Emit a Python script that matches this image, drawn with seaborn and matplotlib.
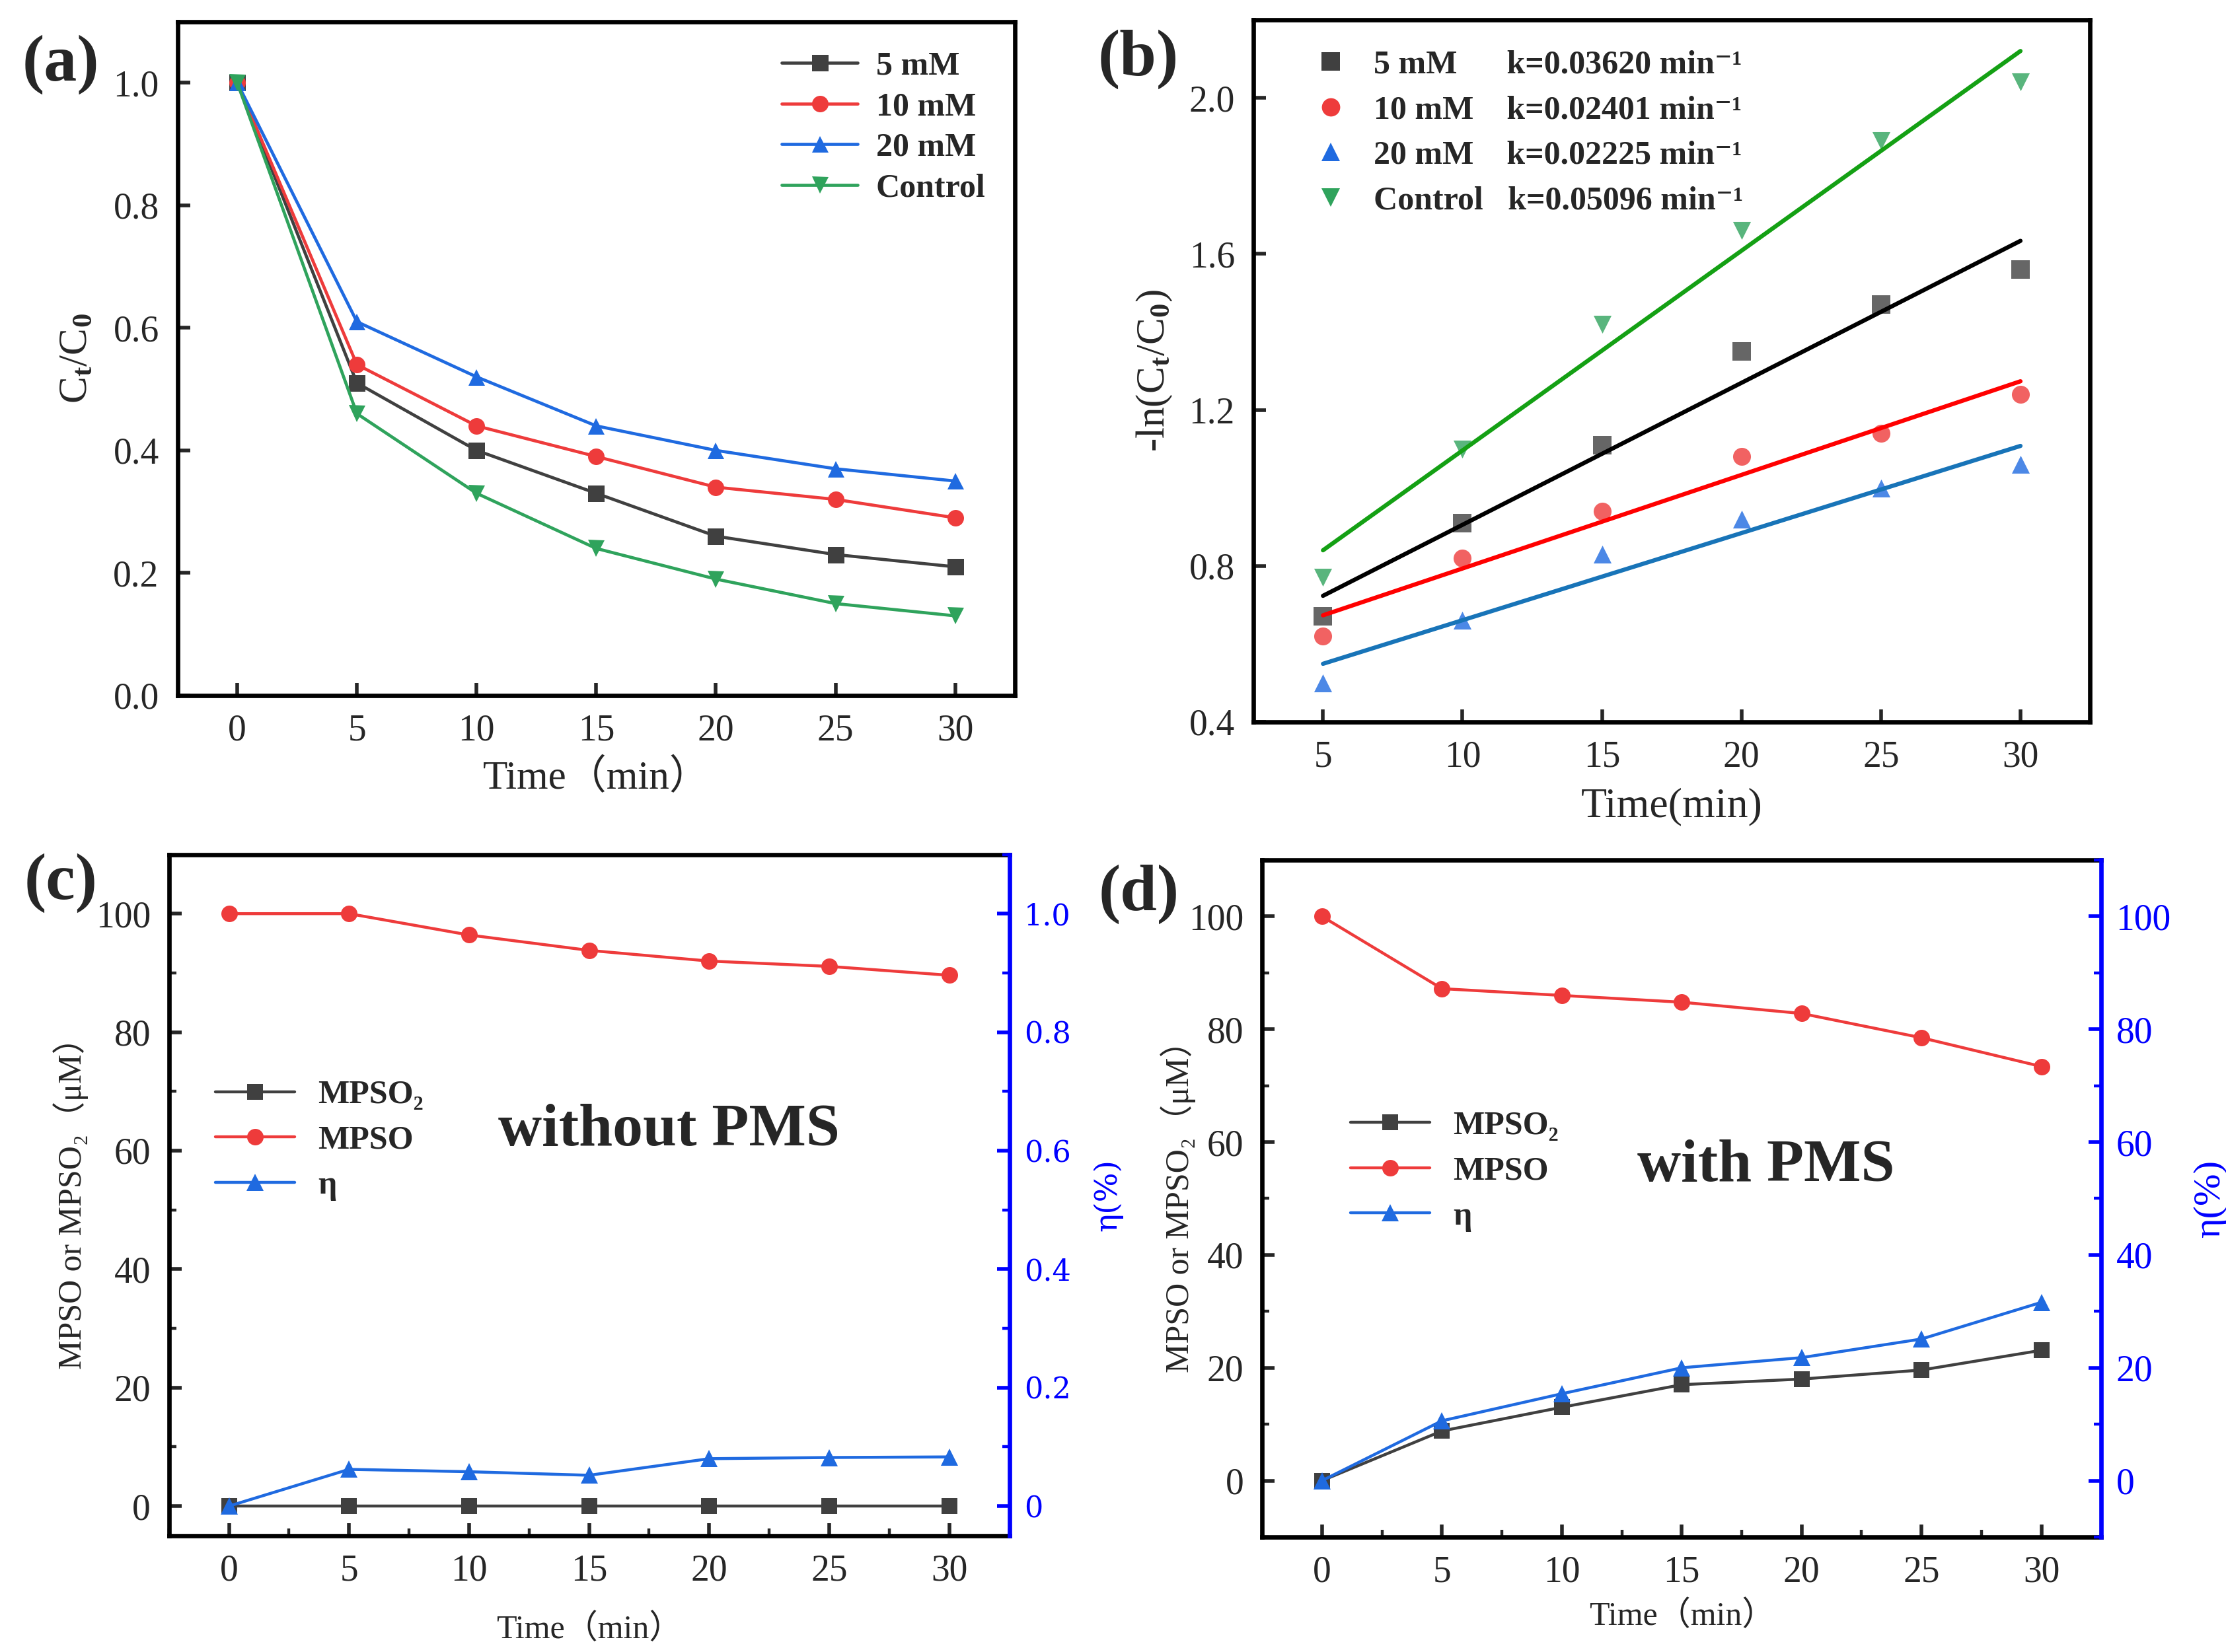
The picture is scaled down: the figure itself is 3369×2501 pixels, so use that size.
"""
Four-panel kinetics figure: (a) Ct/C0 decay, (b) pseudo-first-order fits,
(c)/(d) MPSO / MPSO2 evolution without and with PMS.
"""

import numpy as np
import pandas as pd
import matplotlib
matplotlib.use("Agg")
import matplotlib.pyplot as plt
from matplotlib.lines import Line2D
from matplotlib.ticker import MultipleLocator
import seaborn as sns

# ---------------- data ----------------
time_a = [0, 5, 10, 15, 20, 25, 30]
ratio_5mM = [1.0, 0.51, 0.40, 0.33, 0.26, 0.23, 0.21]
ratio_10mM = [1.0, 0.54, 0.44, 0.39, 0.34, 0.32, 0.29]
ratio_20mM = [1.0, 0.61, 0.52, 0.44, 0.40, 0.37, 0.35]
ratio_ctrl = [1.0, 0.46, 0.33, 0.24, 0.19, 0.15, 0.13]
series_names = ["5 mM", "10 mM", "20 mM", "Control"]

time_b = [5, 10, 15, 20, 25, 30]
lnr_5mM = [0.67, 0.91, 1.11, 1.35, 1.47, 1.56]
lnr_10mM = [0.62, 0.82, 0.94, 1.08, 1.14, 1.24]
lnr_20mM = [0.50, 0.66, 0.83, 0.92, 1.00, 1.06]
lnr_ctrl = [0.77, 1.10, 1.42, 1.66, 1.89, 2.04]
k_values = ["0.03620", "0.02401", "0.02225", "0.05096"]

time_cd = [0, 5, 10, 15, 20, 25, 30]
mpso2_c = [0, 0, 0, 0, 0, 0, 0]
mpso_c = [100, 100, 96.4, 93.8, 92.0, 91.1, 89.6]
eta_c = [0, 0.062, 0.058, 0.052, 0.080, 0.082, 0.083]
mpso2_d = [0, 8.8, 13.0, 17.0, 18.0, 19.6, 23.1]
mpso_d = [100, 87.2, 86.0, 84.8, 82.8, 78.5, 73.4]
eta_d = [0, 10.6, 15.4, 20.0, 21.8, 25.1, 31.6]

eta_c_ticks = [0, 0.2, 0.4, 0.6, 0.8, 1.0]
eta_c_ticklabels = ["0", "0.2", "0.4", "0.6", "0.8", "1.0"]

# ---------------- style ----------------
sns.set_style("ticks")
plt.rcParams["font.family"] = ["Liberation Serif", "DejaVu Serif", "Noto Sans CJK SC"]
plt.rcParams["mathtext.fontset"] = "custom"
plt.rcParams["mathtext.rm"] = "Liberation Serif:bold"
plt.rcParams["mathtext.it"] = "Liberation Serif:bold"
plt.rcParams["mathtext.bf"] = "Liberation Serif:bold"
plt.rcParams["mathtext.default"] = "rm"
plt.rcParams["axes.linewidth"] = 2.4

LINE_COL = {"5 mM": "#404040", "10 mM": "#EE3B3B", "20 mM": "#1F6AE0", "Control": "#2FA35C"}
FIT_COL = {"5 mM": "#000000", "10 mM": "#FF0000", "20 mM": "#1874B8", "Control": "#14A014"}
MARKERS = {"5 mM": "s", "10 mM": "o", "20 mM": "^", "Control": "v"}
BLUE = "#0000FF"


def style_axes(ax, size=20, minor=False, pad=8):
    ax.tick_params(axis="both", which="major", direction="in", length=7, width=2,
                   labelsize=size, top=False, right=False, pad=pad)
    if minor:
        ax.tick_params(axis="both", which="minor", direction="in", length=4, width=1.6,
                       top=False, right=False)
    for sp in ax.spines.values():
        sp.set_linewidth(2.4)
        sp.set_color("black")


fig = plt.figure(figsize=(16.845, 12.505), dpi=200)

# ---------------- (a) ----------------
ax_a = fig.add_axes([0.0797, 0.579, 0.3763, 0.408])
df_a = pd.DataFrame({"time": time_a, "5 mM": ratio_5mM, "10 mM": ratio_10mM,
                     "20 mM": ratio_20mM, "Control": ratio_ctrl})
for name in series_names:
    sns.lineplot(data=df_a, x="time", y=name, ax=ax_a, color=LINE_COL[name],
                 marker=MARKERS[name], markersize=9, markeredgewidth=0,
                 linewidth=1.7, label=name)
ax_a.set_xlim(-2.5, 32.5)
ax_a.set_ylim(0, 1.1)
ax_a.set_xticks(time_a)
ax_a.set_yticks([0, 0.2, 0.4, 0.6, 0.8, 1.0])
ax_a.yaxis.set_major_formatter(plt.FormatStrFormatter("%.1f"))
style_axes(ax_a, pad=10)
ax_a.set_xlabel("Time（min）", fontsize=22, labelpad=6)
ax_a.set_ylabel("C$_t$/C$_0$", fontsize=22, labelpad=10)
ax_a.legend(loc="upper right", frameon=False, prop={"weight": "bold", "size": 18},
            handlelength=2.3, handletextpad=0.55, labelspacing=0.31,
            borderaxespad=0.5, bbox_to_anchor=(1.0, 1.0))

# ---------------- (b) ----------------
ax_b = fig.add_axes([0.563, 0.563, 0.376, 0.425])
lnr_sets = {"5 mM": lnr_5mM, "10 mM": lnr_10mM, "20 mM": lnr_20mM, "Control": lnr_ctrl}
for name in series_names:
    sns.regplot(x=time_b, y=lnr_sets[name], ax=ax_b, ci=None, marker=MARKERS[name],
                scatter_kws={"s": 95, "color": LINE_COL[name], "linewidths": 0},
                line_kws={"color": FIT_COL[name], "linewidth": 2.3})
ax_b.set_xlim(2.5, 32.5)
ax_b.set_ylim(0.4, 2.2)
ax_b.set_xticks(time_b)
ax_b.set_yticks([0.4, 0.8, 1.2, 1.6, 2.0])
ax_b.yaxis.set_major_formatter(plt.FormatStrFormatter("%.1f"))
style_axes(ax_b, pad=10)
ax_b.set_xlabel("Time(min)", fontsize=23, labelpad=7)
ax_b.set_ylabel("-ln(C$_t$/C$_0$)", fontsize=22, labelpad=8)
pads = {"5 mM": "      ", "10 mM": "    ", "20 mM": "    ", "Control": "   "}
handles_b = [Line2D([], [], linestyle="none", marker=MARKERS[n], color=LINE_COL[n],
                    markersize=10, markeredgewidth=0) for n in series_names]
labels_b = [f"{n}{pads[n]}k={k} min⁻¹" for n, k in zip(series_names, k_values)]
ax_b.legend(handles_b, labels_b, loc="upper left", frameon=False,
            prop={"weight": "bold", "size": 18}, handlelength=1.0,
            handletextpad=0.8, labelspacing=0.45, borderaxespad=0.3,
            bbox_to_anchor=(0.045, 0.99))


# ---------------- (c) and (d) ----------------
def mpso_panel(rect, mpso2, mpso, eta, ylim_left, ylim_right, right_ticks,
               right_labels, right_font, right_size, note, note_xy, leg_anchor,
               xpad, ypad):
    ax = fig.add_axes(rect)
    df = pd.DataFrame({"time": time_cd, "MPSO2": mpso2, "MPSO": mpso, "eta": eta})
    sns.lineplot(data=df, x="time", y="MPSO2", ax=ax, color="#404040", marker="s",
                 markersize=8.5, markeredgewidth=0, linewidth=1.6, label="MPSO₂")
    sns.lineplot(data=df, x="time", y="MPSO", ax=ax, color="#EE3B3B", marker="o",
                 markersize=9, markeredgewidth=0, linewidth=1.6, label="MPSO")
    ax2 = ax.twinx()
    sns.lineplot(data=df, x="time", y="eta", ax=ax2, color="#1F6AE0", marker="^",
                 markersize=9.5, markeredgewidth=0, linewidth=1.6, label="η")
    ax.set_xlim(-2.5, 32.5)
    ax.set_ylim(*ylim_left)
    ax2.set_ylim(*ylim_right)
    ax.set_xticks(time_cd)
    ax.set_yticks([0, 20, 40, 60, 80, 100])
    ax.xaxis.set_minor_locator(MultipleLocator(2.5))
    ax.yaxis.set_minor_locator(MultipleLocator(10))
    style_axes(ax, size=20, minor=True, pad=10)
    ax.spines["right"].set_visible(False)
    ax.set_xlabel("Time（min）", fontsize=18, labelpad=xpad)
    ax.set_ylabel("MPSO or MPSO₂（μM）", fontsize=18, labelpad=ypad)

    ax2.set_yticks(right_ticks)
    ax2.set_yticklabels(right_labels, fontfamily=right_font)
    ax2.yaxis.set_minor_locator(MultipleLocator(right_ticks[1] / 2))
    ax2.tick_params(axis="y", which="major", direction="in", length=7, width=2,
                    colors=BLUE, labelsize=right_size, pad=8)
    ax2.tick_params(axis="y", which="minor", direction="in", length=4, width=1.6,
                    colors=BLUE)
    for side in ["left", "top", "bottom"]:
        ax2.spines[side].set_visible(False)
    ax2.spines["right"].set_color(BLUE)
    ax2.spines["right"].set_linewidth(2.4)
    ax2.set_ylabel("η(%)", color=BLUE, fontsize=right_size + 1, fontfamily=right_font,
                   labelpad=12)

    h1, l1 = ax.get_legend_handles_labels()
    h2, l2 = ax2.get_legend_handles_labels()
    if ax.get_legend():
        ax.get_legend().remove()
    ax2.legend(h1 + h2, l1 + l2, loc="center left", bbox_to_anchor=leg_anchor,
               frameon=False, prop={"weight": "bold", "size": 18},
               handlelength=2.4, handletextpad=0.7, labelspacing=0.45)
    ax2.text(note_xy[0], note_xy[1], note, transform=ax2.transAxes, ha="center",
             va="center", fontsize=33, fontweight="bold")
    return ax, ax2


mpso_panel([0.0759, 0.0704, 0.3775, 0.4124], mpso2_c, mpso_c, eta_c,
           (-5, 110), (-0.05, 1.1), eta_c_ticks, eta_c_ticklabels,
           "DejaVu Serif", 16, "without PMS", (0.595, 0.594), (0.02, 0.58), 14, 4)

mpso_panel([0.567, 0.0696, 0.377, 0.4098], mpso2_d, mpso_d, eta_d,
           (-10, 110), (-10, 110), [0, 20, 40, 60, 80, 100],
           ["0", "20", "40", "60", "80", "100"],
           "Liberation Serif", 20, "with PMS", (0.60, 0.547), (0.07, 0.54), 6, -4)

# ---------------- panel labels ----------------
for lbl, x, y in [("(a)", 0.0274, 0.961), ("(b)", 0.5115, 0.964),
                  ("(c)", 0.0274, 0.4656), ("(d)", 0.5115, 0.4588)]:
    fig.text(x, y, lbl, ha="center", va="center", fontsize=36, fontweight="bold")

fig.savefig("out.png", dpi=200, facecolor="white")
